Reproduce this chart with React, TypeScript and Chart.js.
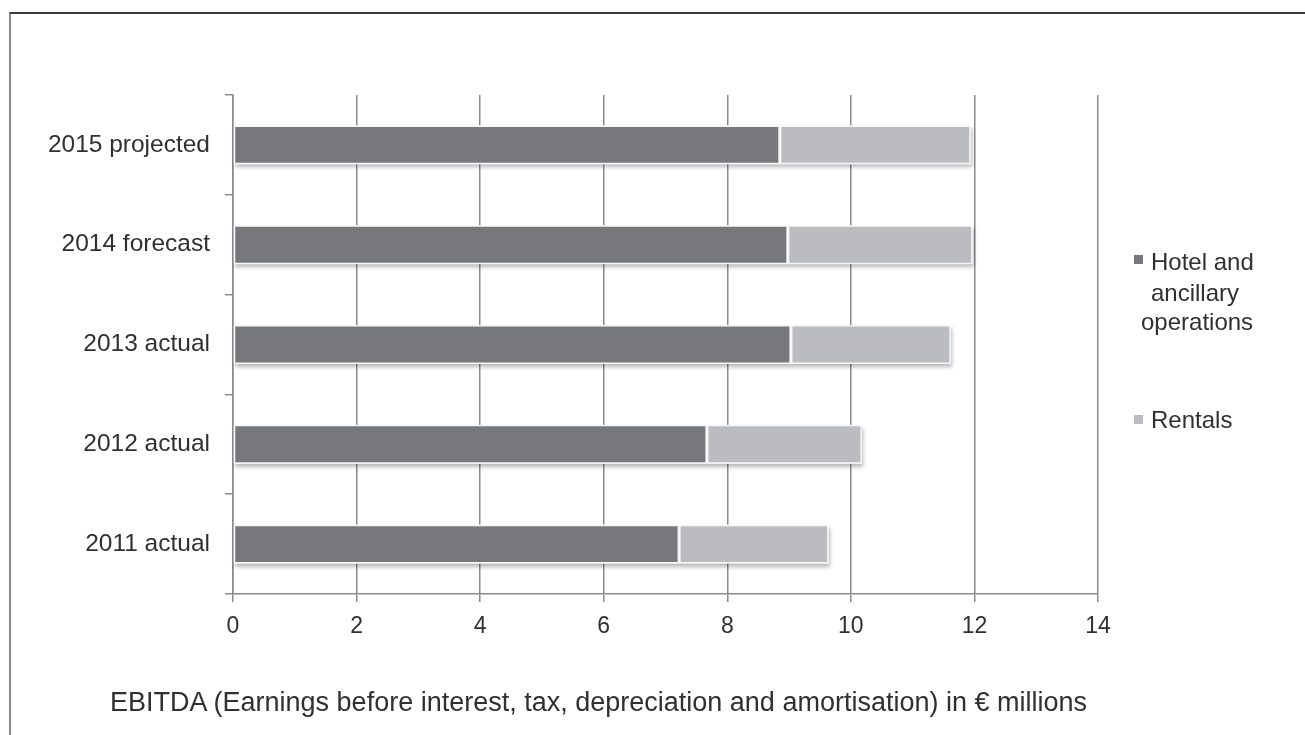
import React, { useEffect, useRef } from "react";
import { Chart, registerables } from "chart.js";

Chart.register(...registerables);

const categories = ["2015 projected", "2014 forecast", "2013 actual", "2012 actual", "2011 actual"];
const hotelValues = [8.85, 8.98, 9.03, 7.67, 7.22];
const rentalValues = [3.09, 2.99, 2.59, 2.51, 2.42];
const seriesLabels = ["Hotel and ancillary operations", "Rentals"];
const seriesColors = ["#77787b", "#bbbcbf"];
const xMin = 0;
const xMax = 14;
const xStep = 2;
const axisTitle = "EBITDA (Earnings before interest, tax, depreciation and amortisation) in € millions";
const legendLines = [["Hotel and", "ancillary", "operations"], ["Rentals"]];

const FONT = "'Liberation Sans', Arial, Helvetica, sans-serif";
const TEXT = "#303030";
const GRID = "#8a8a8a";

const barShadow = {
  id: "barShadow",
  beforeDatasetsDraw(chart: any) {
    const m0 = chart.getDatasetMeta(0);
    const m1 = chart.getDatasetMeta(1);
    const ctx = chart.ctx;
    ctx.save();
    ctx.shadowColor = "rgba(0,0,0,0.28)";
    ctx.shadowBlur = 4;
    ctx.shadowOffsetX = 1;
    ctx.shadowOffsetY = 3;
    ctx.fillStyle = "#ffffff";
    m0.data.forEach((el: any, i: number) => {
      const e1 = m1.data[i];
      const p0 = el.getProps(["x", "y", "base", "height"], true);
      const p1 = e1.getProps(["x"], true);
      const left = Math.min(p0.base, p0.x);
      const right = Math.max(p1.x, p0.x);
      ctx.fillRect(left, p0.y - p0.height / 2, right - left, p0.height);
    });
    ctx.restore();
  },
};

function ChartCanvas() {
  const ref = useRef<HTMLCanvasElement | null>(null);
  useEffect(() => {
    if (!ref.current) return;
    const chart = new Chart(ref.current, {
      type: "bar",
      data: {
        labels: categories,
        datasets: [
          {
            label: seriesLabels[0],
            data: hotelValues,
            backgroundColor: seriesColors[0],
            borderColor: "#f6f6f6",
            borderWidth: 1.5,
            borderSkipped: false,
            barPercentage: 0.39,
            categoryPercentage: 1,
          },
          {
            label: seriesLabels[1],
            data: rentalValues,
            backgroundColor: seriesColors[1],
            borderColor: "#f6f6f6",
            borderWidth: 1.5,
            borderSkipped: false,
            barPercentage: 0.39,
            categoryPercentage: 1,
          },
        ],
      },
      options: {
        animation: false,
        responsive: false,
        maintainAspectRatio: false,
        indexAxis: "y",
        layout: { padding: { top: 95, right: 207, left: 0, bottom: 0 } },
        plugins: { legend: { display: false }, tooltip: { enabled: false }, title: { display: false } },
        scales: {
          x: {
            stacked: true,
            min: xMin,
            max: xMax,
            ticks: { stepSize: xStep, color: TEXT, font: { family: FONT, size: 23 }, padding: 11 },
            grid: { color: GRID, lineWidth: 1.5, tickLength: 8, drawTicks: true },
            border: { display: true, color: GRID, width: 1.5 },
            afterFit: (s: any) => {
              s.height = 141;
            },
          },
          y: {
            stacked: true,
            ticks: { color: TEXT, font: { family: FONT, size: 24.5 }, padding: 15 },
            grid: { color: GRID, lineWidth: 1.5, tickLength: 8, drawOnChartArea: false, drawTicks: true, offset: true },
            border: { display: true, color: GRID, width: 1.5 },
            afterFit: (s: any) => {
              s.width = 233;
            },
          },
        },
      },
      plugins: [barShadow],
    } as any);
    return () => chart.destroy();
  }, []);
  return <canvas ref={ref} width={1305} height={735} style={{ display: "block", width: 1305, height: 735 }} />;
}

export default function App() {
  const legendTops = [[247, 278, 307], [405]];
  const legendLefts = [[1151, 1151, 1141], [1151]];
  const squareTops = [255, 415];
  return (
    <div
      style={{
        position: "absolute",
        left: 0,
        top: 0,
        width: 1305,
        height: 735,
        overflow: "hidden",
        background: "#ffffff",
        fontFamily: FONT,
      }}
    >
      <div
        style={{
          position: "absolute",
          left: 9,
          top: 12,
          width: 1400,
          height: 800,
          borderTop: "2px solid #3a3a3a",
          borderLeft: "2px solid #8a8a8a",
        }}
      />
      <div style={{ position: "absolute", left: 0, top: 0 }}>
        <ChartCanvas />
      </div>
      {legendLines.map((lines, si) => (
        <React.Fragment key={si}>
          <div
            style={{
              position: "absolute",
              left: 1134,
              top: squareTops[si],
              width: 9,
              height: 9,
              background: seriesColors[si],
            }}
          />
          {lines.map((ln, li) => (
            <div
              key={li}
              style={{
                position: "absolute",
                left: legendLefts[si][li],
                top: legendTops[si][li],
                fontSize: 24,
                lineHeight: "30px",
                color: TEXT,
                whiteSpace: "nowrap",
              }}
            >
              {ln}
            </div>
          ))}
        </React.Fragment>
      ))}
      <div
        style={{
          position: "absolute",
          right: 1305 - 1087,
          top: 689,
          fontSize: 27,
          lineHeight: "27px",
          color: TEXT,
          whiteSpace: "nowrap",
        }}
      >
        {axisTitle}
      </div>
    </div>
  );
}
